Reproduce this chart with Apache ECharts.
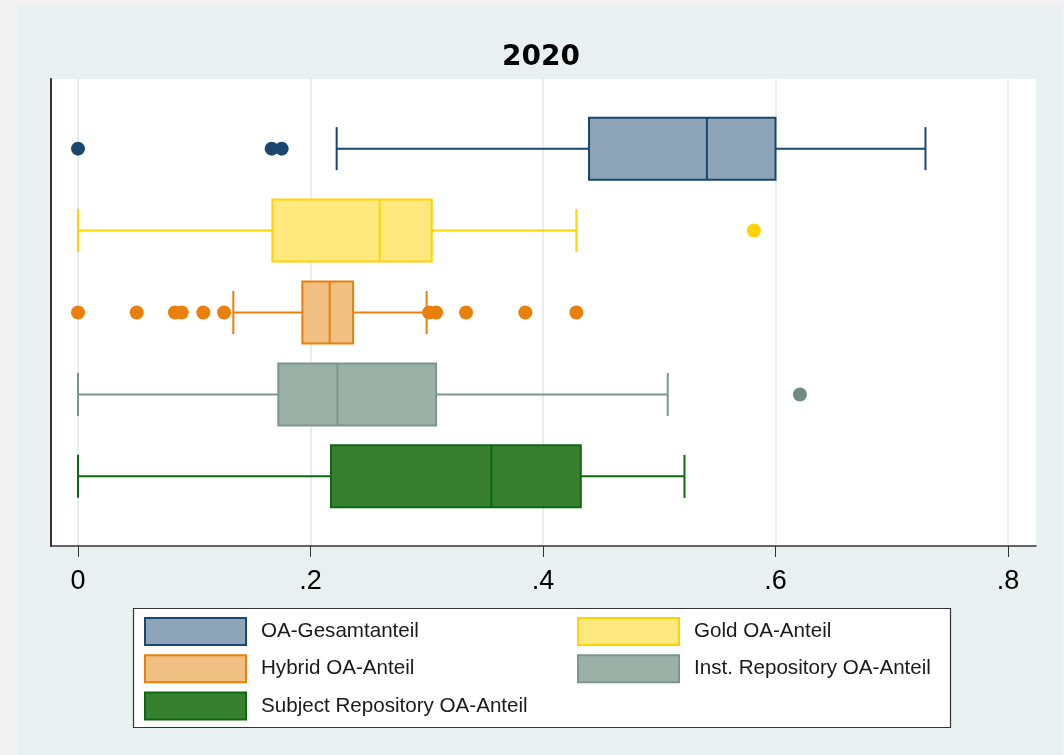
<!DOCTYPE html>
<html>
<head>
<meta charset="utf-8" />
<title>2020</title>
<script src="https://cdn.jsdelivr.net/npm/echarts@6/dist/echarts.min.js"></script>
<style>
	html, body { margin: 0; padding: 0; background: #f2f2f2; }
	#main { width: 1064px; height: 755px; }
</style>
</head>
<body>
<div id="main"></div>
<script>
	// Daten
	var categories = ['OA-Gesamtanteil', 'Gold OA-Anteil', 'Hybrid OA-Anteil', 'Inst. Repository OA-Anteil', 'Subject Repository OA-Anteil'];
	var whiskerLow = [0.2225, 0, 0.1336, 0, 0];
	var q1 = [0.4396, 0.1672, 0.1930, 0.1723, 0.2176];
	var median = [0.5410, 0.2595, 0.2165, 0.2231, 0.3556];
	var q3 = [0.6000, 0.3043, 0.2366, 0.3080, 0.4325];
	var whiskerHigh = [0.7290, 0.4287, 0.2999, 0.5073, 0.5217];
	var outliers = [
		[0, 0.1666, 0.1752],
		[0.5814],
		[0, 0.0505, 0.0834, 0.0892, 0.1078, 0.1256, 0.3020, 0.3080, 0.3338, 0.3848, 0.4287],
		[0.6210],
		[]
	];
	var tickValues = [0, 0.2, 0.4, 0.6, 0.8];
	var tickLabels = ['0', '.2', '.4', '.6', '.8'];

	// Farben
	var lineColors = ['#1a476f', '#ffd200', '#e8800b', '#7b978d', '#0d690d'];
	var fillColors = ['#8ea4b8', '#ffe97f', '#f0bf82', '#9bb0a7', '#36802f'];
	var dotColors = ['#1a476f', '#ffd200', '#e8800b', '#6f8c82', '#0d690d'];

	var myChart = echarts.init(document.getElementById('main'));

	function renderBox(params, api) {
		var row = api.value(0);
		var cLow = api.coord([api.value(1), row]);
		var cQ1 = api.coord([api.value(2), row]);
		var cMed = api.coord([api.value(3), row]);
		var cQ3 = api.coord([api.value(4), row]);
		var cHigh = api.coord([api.value(5), row]);
		var y = cQ1[1];
		var hb = 31, hc = 21.5;
		var stroke = lineColors[params.seriesIndex];
		var fill = fillColors[params.seriesIndex];
		var ls = { stroke: stroke, lineWidth: 2 };
		return {
			type: 'group',
			children: [
				{ type: 'line', shape: { x1: cLow[0], y1: y, x2: cQ1[0], y2: y }, style: ls },
				{ type: 'line', shape: { x1: cQ3[0], y1: y, x2: cHigh[0], y2: y }, style: ls },
				{ type: 'line', shape: { x1: cLow[0], y1: y - hc, x2: cLow[0], y2: y + hc }, style: ls },
				{ type: 'line', shape: { x1: cHigh[0], y1: y - hc, x2: cHigh[0], y2: y + hc }, style: ls },
				{ type: 'rect', shape: { x: cQ1[0], y: y - hb, width: cQ3[0] - cQ1[0], height: hb * 2 },
					style: { fill: fill, stroke: stroke, lineWidth: 2 } },
				{ type: 'line', shape: { x1: cMed[0], y1: y - hb, x2: cMed[0], y2: y + hb }, style: ls }
			]
		};
	}

	var series = [];
	categories.forEach(function(name, i) {
		series.push({
			name: name,
			type: 'custom',
			xAxisIndex: 1,
			yAxisIndex: 1,
			renderItem: renderBox,
			encode: { x: [1, 2, 3, 4, 5], y: 0 },
			data: [[i + 1, whiskerLow[i], q1[i], median[i], q3[i], whiskerHigh[i]]],
			z: 3
		});
	});
	categories.forEach(function(name, i) {
		series.push({
			name: name,
			type: 'scatter',
			xAxisIndex: 1,
			yAxisIndex: 1,
			symbol: 'circle',
			symbolSize: 14,
			itemStyle: { color: dotColors[i], opacity: 1 },
			data: outliers[i].map(function(v) { return [v, i + 1]; }),
			z: 4
		});
	});

	function legendItem(i) {
		return {
			name: categories[i],
			icon: 'rect',
			itemStyle: { color: fillColors[i], borderColor: lineColors[i], borderWidth: 2 }
		};
	}

	var legendText = {
		fontFamily: 'Liberation Sans, Arial, sans-serif',
		fontSize: 20.6,
		color: '#1a1a1a',
		padding: [0, 0, 0, 10]
	};

	myChart.setOption({
		backgroundColor: '#f2f2f2',
		animation: false,
		title: {
			text: '2020',
			left: 497,
			top: 39,
			textStyle: { fontFamily: 'DejaVu Sans', fontWeight: 'bold', fontSize: 28, color: '#000' }
		},
		graphic: [
			{ type: 'rect', z: -10, shape: { x: 18, y: 6, width: 1044, height: 749 }, style: { fill: '#e8f0f2' } },
			{ type: 'rect', z: 1, shape: { x: 133.5, y: 608.5, width: 817, height: 119 }, style: { fill: '#fff', stroke: '#333', lineWidth: 1.2 } }
		],
		legend: [{
			orient: 'vertical',
			left: 144,
			top: 617,
			padding: 0,
			itemWidth: 101,
			itemHeight: 27,
			itemGap: 8.3,
			selectedMode: false,
			textStyle: legendText,
			data: [legendItem(0), legendItem(2), legendItem(4)]
		}, {
			orient: 'vertical',
			left: 577,
			top: 617,
			padding: 0,
			itemWidth: 101,
			itemHeight: 27,
			itemGap: 8.3,
			selectedMode: false,
			textStyle: legendText,
			data: [legendItem(1), legendItem(3)]
		}],
		grid: [
			{ left: 51, right: 28, top: 79, bottom: 209, show: true, backgroundColor: '#fff', borderWidth: 0 },
			{ left: 78, right: 56, top: 79, bottom: 209 }
		],
		xAxis: [{
			gridIndex: 0,
			type: 'value',
			min: 0,
			max: 1,
			axisLine: { show: true, lineStyle: { color: '#333', width: 1.5 } },
			axisTick: { show: false },
			axisLabel: { show: false },
			splitLine: { show: false }
		}, {
			gridIndex: 1,
			type: 'value',
			min: 0,
			max: 0.8,
			interval: 0.2,
			axisLine: { show: false },
			axisTick: { show: true, length: 11, lineStyle: { color: '#333', width: 1 } },
			axisLabel: {
				margin: 22,
				fontFamily: 'Liberation Sans, Arial, sans-serif',
				fontSize: 27,
				color: '#000',
				formatter: function(v) {
					for (var k = 0; k < tickValues.length; k++) {
						if (Math.abs(tickValues[k] - v) < 1e-6) return tickLabels[k];
					}
					return '';
				}
			},
			splitLine: { show: true, lineStyle: { color: '#e6eef1', width: 2 } }
		}],
		yAxis: [{
			gridIndex: 0,
			type: 'value',
			min: 0,
			max: 1,
			axisLine: { show: true, lineStyle: { color: '#333', width: 2 } },
			axisTick: { show: false },
			axisLabel: { show: false },
			splitLine: { show: false }
		}, {
			gridIndex: 1,
			type: 'value',
			min: 0.15,
			max: 5.85,
			inverse: true,
			show: false,
			splitLine: { show: false }
		}],
		series: series
	});

	window.onresize = function() {
		myChart.resize();
	};
</script>
</body>
</html>
